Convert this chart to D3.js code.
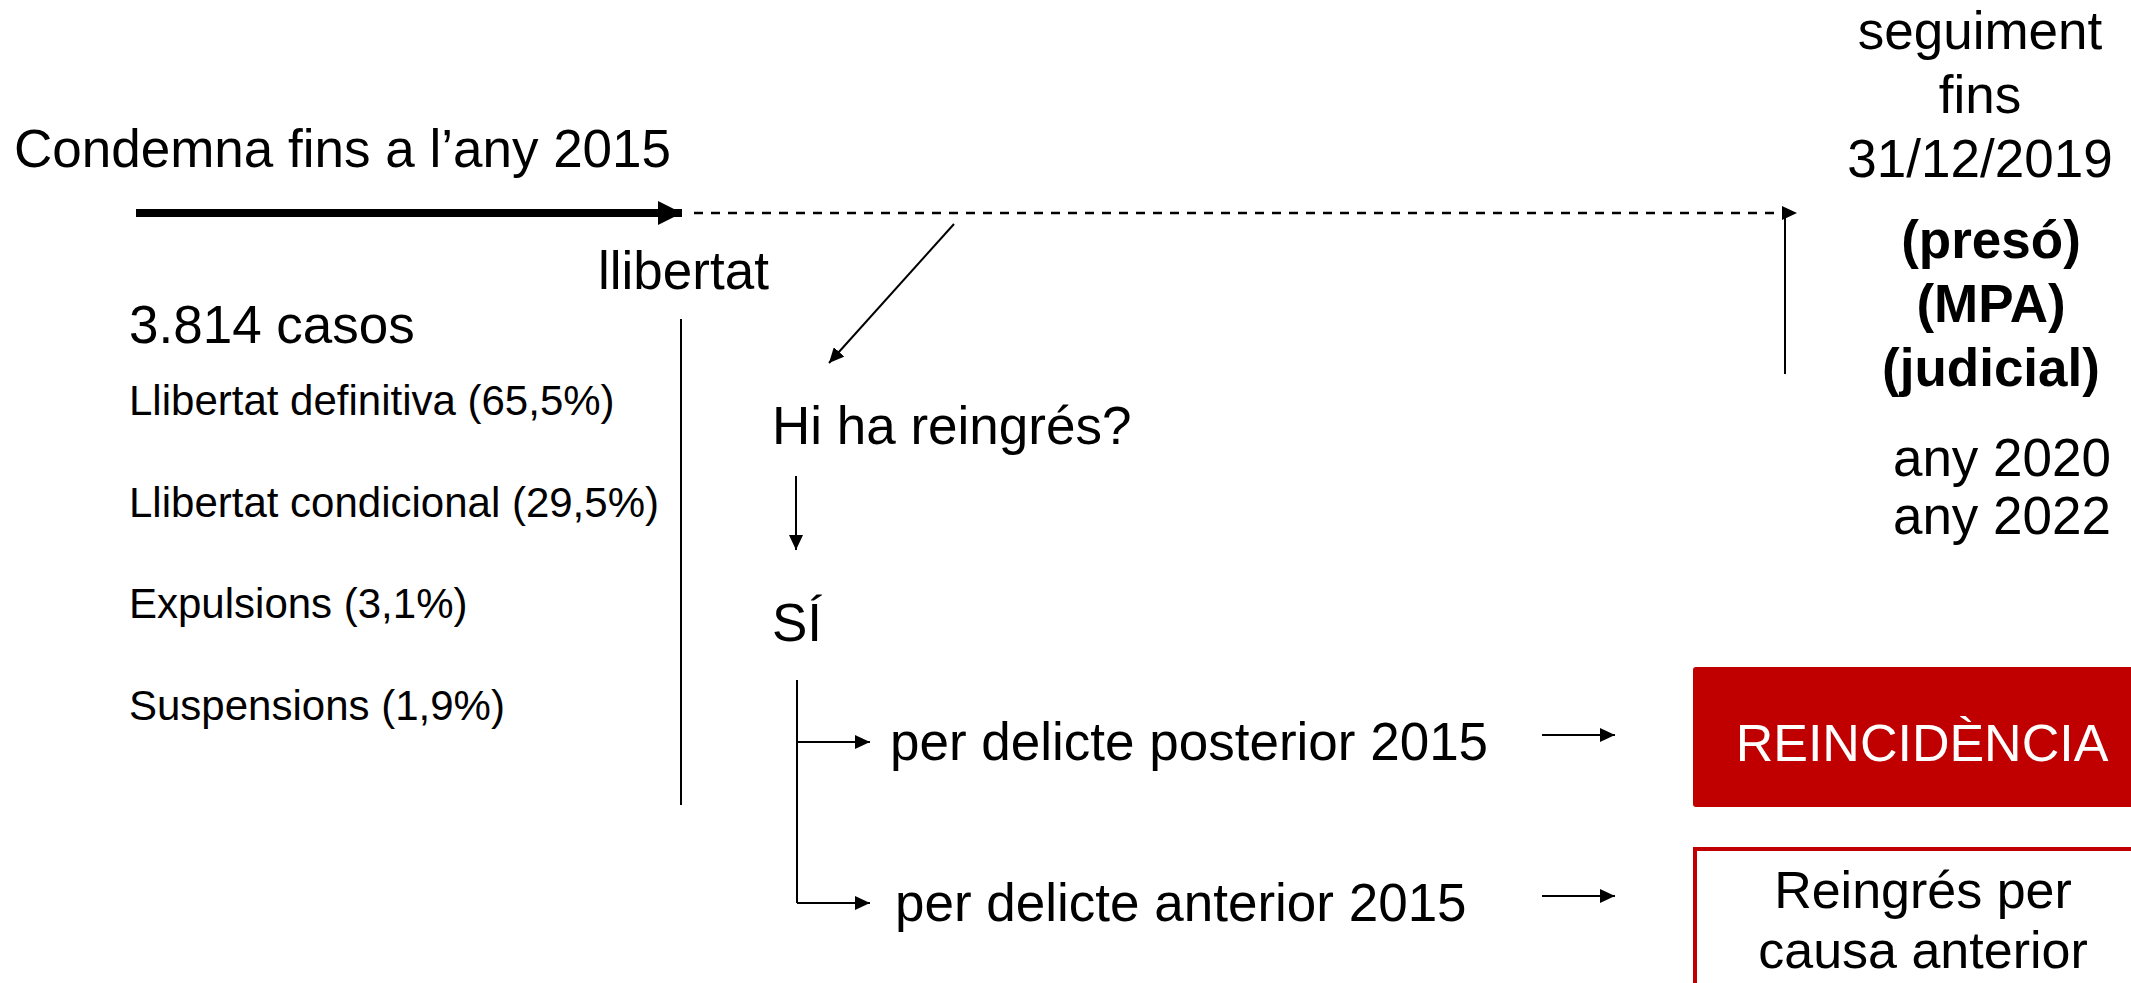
<!DOCTYPE html>
<html>
<head>
<meta charset="utf-8">
<script src="https://cdn.jsdelivr.net/npm/d3@7"></script>
<style>
  body { margin: 0; background: #fff; }
  text { font-family: "Liberation Sans", Arial, sans-serif; }
</style>
</head>
<body>
<script>
// data
const outcomes = ["Llibertat definitiva", "Llibertat condicional", "Expulsions", "Suspensions"];
const shares = [65.5, 29.5, 3.1, 1.9];
const totalCases = 3814;
const followUp = ["seguiment", "fins", "31/12/2019"];
const sources = ["(presó)", "(MPA)", "(judicial)"];
const years = ["any 2020", "any 2022"];
const branches = ["per delicte posterior 2015", "per delicte anterior 2015"];
const results = ["REINCIDÈNCIA", "Reingrés per causa anterior"];

let W = 2131, H = 983;
let red = "#c00000";

let svg = d3.select("body").append("svg")
  .attr("width", W)
  .attr("height", H);

let defs = svg.append("defs");
function marker(id, len, wid) {
  defs.append("marker")
    .attr("id", id)
    .attr("markerUnits", "userSpaceOnUse")
    .attr("viewBox", `0 0 ${len} ${wid}`)
    .attr("refX", len).attr("refY", wid / 2)
    .attr("markerWidth", len).attr("markerHeight", wid)
    .attr("orient", "auto")
    .append("path")
    .attr("d", `M0,0L${len},${wid / 2}L0,${wid}Z`)
    .attr("fill", "#000");
}
marker("big", 24, 24);
marker("small", 15, 14);

function line(x1, y1, x2, y2, w, head, dash) {
  let l = svg.append("line")
    .attr("x1", x1).attr("y1", y1).attr("x2", x2).attr("y2", y2)
    .attr("stroke", "#000").attr("stroke-width", w);
  if (head) l.attr("marker-end", `url(#${head})`);
  if (dash) l.attr("stroke-dasharray", dash);
  return l;
}
function label(x, y, txt, size, anchor, weight, fill) {
  return svg.append("text")
    .attr("x", x).attr("y", y)
    .attr("font-size", size + "px")
    .attr("text-anchor", anchor || "start")
    .attr("font-weight", weight || "normal")
    .attr("fill", fill || "#000")
    .text(txt);
}

// timeline
label(14, 167, "Condemna fins a l\u2019any 2015", 53);
line(136, 213, 682, 213, 8, "big");
line(694, 213, 1797, 213, 2.5, "small", "9,8");
line(1785, 213, 1785, 374, 2);
line(954, 224, 829, 363, 2, "small");

label(598, 289, "llibertat", 53);
line(681, 319, 681, 805, 2);

// cases list
let fmt = d3.format(",");
label(129, 343, fmt(totalCases).replace(",", ".") + " casos", 53);

let yRow = d3.scalePoint().domain(outcomes).range([415, 720]);
svg.selectAll("text.row")
  .data(outcomes)
  .enter()
  .append("text")
  .attr("class", "row")
  .attr("x", 129)
  .attr("y", d => yRow(d))
  .attr("font-size", "42px")
  .text((d, i) => `${d} (${String(shares[i]).replace(".", ",")}%)`);

// reentry
label(772, 444, "Hi ha reingrés?", 53);
line(796, 476, 796, 550, 2, "small");
label(772, 641, "SÍ", 53);

let yBr = d3.scalePoint().domain(branches).range([742, 903]);
line(797, 680, 797, yBr(branches[1]), 2);
branches.forEach((b, i) => {
  let y = yBr(b);
  line(797, y, 870, y, 2, "small");
  label(i == 0 ? 890 : 895, y + 18, b, 53);
  line(1542, y - 7, 1615, y - 7, 2, "small");
});

// result boxes
svg.append("rect")
  .attr("x", 1693).attr("y", 667)
  .attr("width", 460).attr("height", 140)
  .attr("rx", 3)
  .attr("fill", red);
label(1922, 761, results[0], 52, "middle", "normal", "#fff");

svg.append("rect")
  .attr("x", 1695).attr("y", 849)
  .attr("width", 460).attr("height", 160)
  .attr("fill", "#fff")
  .attr("stroke", red).attr("stroke-width", 4);
label(1923, 908, "Reingrés per", 52, "middle");
label(1923, 968, "causa anterior", 52, "middle");

// follow-up column
followUp.forEach((t, i) => label(1980, 49 + i * 64, t, 53, "middle"));
sources.forEach((t, i) => label(1991, 258 + i * 64, t, 53, "middle", "bold"));
years.forEach((t, i) => label(2111, 476 + i * 58, t, 53, "end"));
</script>
</body>
</html>
